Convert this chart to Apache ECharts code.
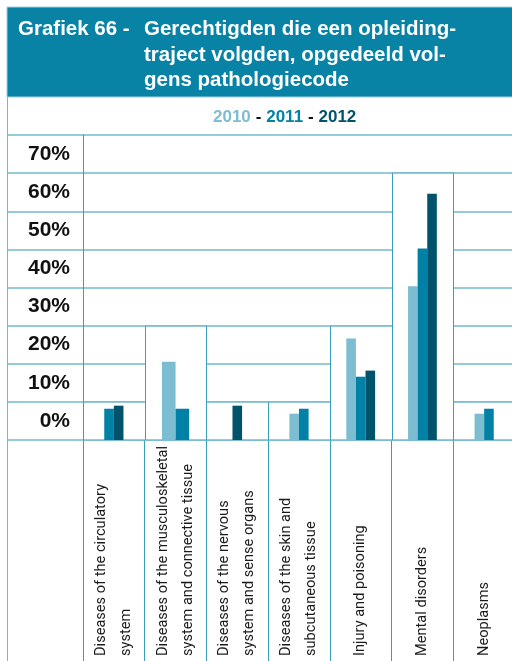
<!DOCTYPE html>
<html><head><meta charset="utf-8">
<script src="https://cdn.jsdelivr.net/npm/echarts@6/dist/echarts.min.js"></script>
<style>html,body{margin:0;padding:0;background:#fff}#c{width:512px;height:661px}</style>
</head><body><div id="c"></div>
<script>
// ---- data ----
const titleLead = 'Grafiek 66 -';
const titleBody = 'Gerechtigden die een opleiding-\ntraject volgden, opgedeeld vol-\ngens pathologiecode';
const categories = [
  'Diseases of the circulatory\nsystem',
  'Diseases of the musculoskeletal\nsystem and connective tissue',
  'Diseases of the nervous\nsystem and sense organs',
  'Diseases of the skin and\nsubcutaneous tissue',
  'Injury and poisoning',
  'Mental disorders',
  'Neoplasms'
];
const years = ['2010', '2011', '2012'];
const values2010 = [null, 20.5, null, 6.9, 26.6, 40.3, 6.9];
const values2011 = [8.2, 8.2, null, 8.2, 16.6, 50.2, 8.2];
const values2012 = [9.0, null, 9.0, null, 18.2, 64.6, null];
const yTickLabels = ['0%', '10%', '20%', '30%', '40%', '50%', '60%', '70%'];
const yMax = 80, yStep = 10;

// ---- styles ----
const yearColors = ['#7dbdd1', '#0081a5', '#00536a'];
const headerColor = '#0883a6';
const hLine = '#72b9cd';
const vLine = '#3a9fbd';
const barWidth = 9.6;
const wideBarCategories = { 1: 13.6 };
const seriesValues = [values2010, values2011, values2012];
const FONT = 'Liberation Sans, Arial, sans-serif';

const boxTops = categories.map((c, i) => {
  const vals = seriesValues.map(s => s[i]).filter(v => v != null);
  return (Math.floor(Math.max(...vals) / yStep) + 1) * yStep;
});

function barRenderer(k) {
  return function (params, api) {
    const i = api.value(0);
    const v = seriesValues[k][i];
    if (v == null) return;
    const present = [0, 1, 2].filter(j => seriesValues[j][i] != null);
    const w = wideBarCategories[i] || barWidth;
    const base = api.coord([i, 0]);
    const top = api.coord([i, v]);
    const pos = present.indexOf(k);
    const x0 = base[0] - present.length * w / 2 + pos * w;
    return {
      type: 'rect',
      shape: { x: x0, y: top[1], width: w, height: base[1] - top[1] },
      style: { fill: yearColors[k] }
    };
  };
}

function boxRenderer(params, api) {
  const i = api.value(0), t = api.value(1);
  const b = api.coord([i, 0]);
  const tp = api.coord([i, t]);
  const bw = api.size([1, 0])[0];
  const xl = Math.round(b[0] - bw / 2) + 0.5, xr = Math.round(b[0] + bw / 2) + 0.5;
  const yt = Math.round(tp[1]), yb = Math.round(b[1]);
  return {
    type: 'group',
    children: [
      { type: 'rect', shape: { x: xl, y: yt, width: xr - xl, height: yb - yt }, style: { fill: '#fff' } },
      { type: 'line', shape: { x1: xl, y1: yt, x2: xr, y2: yt }, style: { stroke: hLine, lineWidth: 1.5 } },
      { type: 'line', shape: { x1: xl, y1: yb, x2: xr, y2: yb }, style: { stroke: hLine, lineWidth: 1.5 } },
      { type: 'line', shape: { x1: xl, y1: yt, x2: xl, y2: yb }, style: { stroke: vLine, lineWidth: 1 } },
      { type: 'line', shape: { x1: xr, y1: yt, x2: xr, y2: yb }, style: { stroke: vLine, lineWidth: 1 } }
    ]
  };
}

const chart = echarts.init(document.getElementById('c'), null, { renderer: 'canvas' });
const titleFont = { fontFamily: FONT, fontWeight: 'bold', fontSize: 20.5, lineHeight: 25.5, color: '#fff' };
const richBase = { fontWeight: 'bold', fontSize: 17, fontFamily: FONT };

chart.setOption({
  animation: false,
  backgroundColor: '#fff',
  graphic: [
    { type: 'rect', z: 0, shape: { x: 7, y: 7, width: 510, height: 90 }, style: { fill: headerColor, stroke: '#9fd0de', lineWidth: 1 } },
    { type: 'line', z: 0, shape: { x1: 7.5, y1: 97, x2: 7.5, y2: 661 }, style: { stroke: hLine, lineWidth: 1 } }
  ],
  title: [
    { text: titleLead, left: 13, top: 12, textStyle: titleFont, z: 10 },
    { text: titleBody, left: 139, top: 12, textStyle: titleFont, z: 10 }
  ],
  legend: {
    left: 203, top: 104,
    icon: 'none', itemWidth: 0, itemHeight: 0, itemGap: 0,
    selectedMode: false,
    data: years,
    formatter: function (name) {
      const k = years.indexOf(name);
      return (k > 0 ? '{d|- }' : '') + '{y' + k + '|' + name + '}';
    },
    textStyle: {
      fontFamily: FONT, fontWeight: 'bold', fontSize: 17,
      rich: {
        d: Object.assign({ color: '#111' }, richBase),
        y0: Object.assign({ color: yearColors[0] }, richBase),
        y1: Object.assign({ color: yearColors[1] }, richBase),
        y2: Object.assign({ color: yearColors[2] }, richBase)
      }
    }
  },
  grid: [
    { left: 83, width: 432, top: 135, height: 305, outerBoundsMode: 'none', containLabel: false },
    { left: 7, width: 76, top: 135, height: 305, outerBoundsMode: 'none', containLabel: false },
    { left: 83, width: 432, top: 440, height: 221, outerBoundsMode: 'none', containLabel: false }
  ],
  xAxis: [
    {
      gridIndex: 0, type: 'category', data: categories,
      axisLine: { show: false }, axisTick: { show: false }, splitLine: { show: false },
      axisLabel: {
        rotate: 90, margin: 216, align: 'left', verticalAlign: 'middle', interval: 0,
        lineHeight: 25, fontSize: 14.6, color: '#1a1a1a', padding: [5, 0, 0, 0],
        fontFamily: 'Roboto, Liberation Sans, sans-serif'
      }
    },
    { gridIndex: 1, type: 'value', show: false, min: 0, max: 1 },
    {
      gridIndex: 2, type: 'category', data: categories,
      axisLine: { show: false }, axisTick: { show: false }, axisLabel: { show: false },
      splitLine: { show: true, interval: 0, lineStyle: { color: vLine, width: 1 } }
    }
  ],
  yAxis: [
    {
      gridIndex: 0, type: 'value', min: 0, max: yMax, interval: yStep,
      axisLabel: { show: false }, axisTick: { show: false },
      axisLine: { show: true, lineStyle: { color: vLine, width: 1 } },
      splitLine: { show: true, lineStyle: { color: hLine, width: 1.5 } }
    },
    {
      gridIndex: 0, type: 'category', data: yTickLabels, position: 'left',
      axisLine: { show: false }, axisTick: { show: false }, splitLine: { show: false },
      axisLabel: { margin: 13, fontSize: 21, fontWeight: 'bold', color: '#111', fontFamily: FONT }
    },
    {
      gridIndex: 1, type: 'value', min: 0, max: yMax, interval: yStep,
      axisLabel: { show: false }, axisTick: { show: false },
      axisLine: { show: false },
      splitLine: { show: true, lineStyle: { color: hLine, width: 1.5 } }
    },
    { gridIndex: 2, type: 'value', show: false, min: 0, max: 1 }
  ],
  series: [
    {
      type: 'custom', name: 'boxes', xAxisIndex: 0, yAxisIndex: 0, z: 2,
      renderItem: boxRenderer, silent: true,
      data: boxTops.map((t, i) => [i, t]), encode: { x: 0, y: 1 }
    }
  ].concat(years.map((y, k) => ({
    type: 'custom', name: y, xAxisIndex: 0, yAxisIndex: 0, z: 3,
    itemStyle: { color: yearColors[k] },
    renderItem: barRenderer(k),
    data: categories.map((c, i) => [i, seriesValues[k][i] == null ? 0 : seriesValues[k][i]]),
    encode: { x: 0, y: 1 }
  })))
});
</script></body></html>
